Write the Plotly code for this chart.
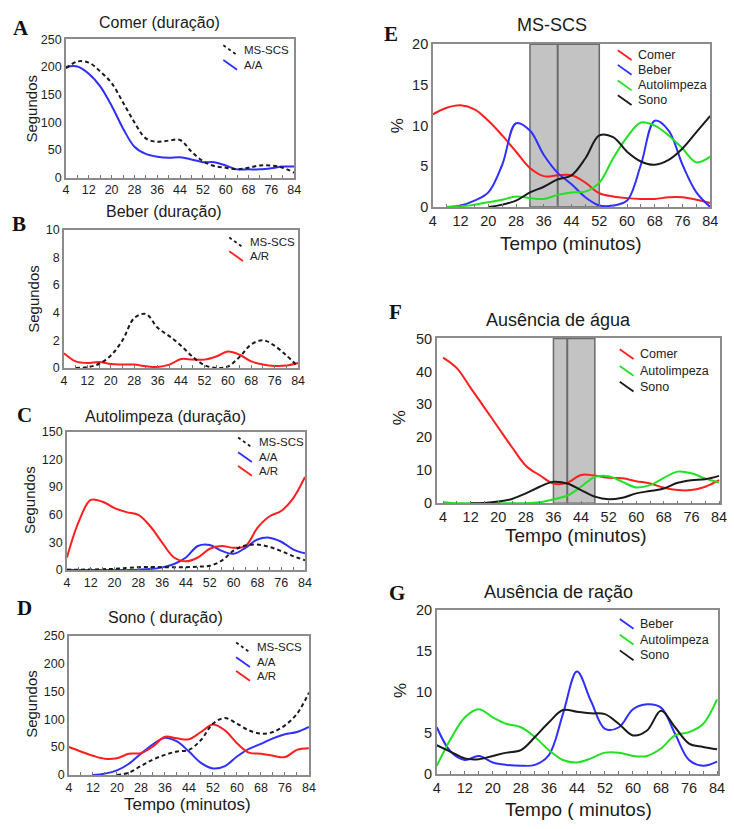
import plotly.graph_objects as go

W, H = 734, 829

# time axis (minutes)
T = [4, 8, 12, 16, 20, 24, 28, 32, 36, 40, 44, 48, 52, 56, 60, 64, 68, 72, 76, 80, 84]
X_TICKS = [4, 12, 20, 28, 36, 44, 52, 60, 68, 76, 84]

# A - Comer (duração), seconds
A_MSSCS = [198, 210, 208, 192, 171, 136, 100, 71, 65, 67, 68, 47, 30, 21, 18, 15, 18, 22, 22, 18, 9]
A_AA = [200, 201, 188, 165, 130, 89, 56, 43, 38, 36, 37, 33, 28, 28, 22, 15, 15, 15, 17, 20, 20]

# B - Beber (duração), seconds
B_MSSCS = [None, 0, 0.05, 0.3, 0.9, 2.0, 3.6, 3.9, 2.9, 2.3, 1.6, 0.8, 0.2, 0.0, 0.1, 0.8, 1.7, 2.0, 1.6, 0.9, 0.1]
B_AR = [1.06, 0.47, 0.35, 0.43, 0.28, 0.25, 0.24, 0.12, 0.07, 0.24, 0.64, 0.6, 0.6, 0.83, 1.18, 0.95, 0.47, 0.24, 0.14, 0.17, 0.35]

# C - Autolimpeza (duração), seconds
C_MSSCS = [0.3, 0.3, 0.5, 0.8, 1.2, 2.0, 3.0, 3.2, 3.0, 2.8, 3.0, 3.5, 4.6, 10, 21, 26.5, 27.5, 25, 20.5, 15, 10.5]
C_AA = [0.3, 0, 0, 0, 0, 0, 0.3, 1.0, 2.8, 6.4, 13.5, 26, 27, 20.7, 17.5, 24, 33, 35, 30.6, 22.4, 18]
C_AR = [13.5, 52.7, 75.9, 74, 67, 62.7, 59.8, 47.4, 29.6, 13.5, 9.3, 13.5, 23, 26, 24, 26, 45.6, 58, 64, 77.7, 100.8]

# D - Sono (duração), seconds
D_MSSCS = [None, None, None, None, 0, 4, 16, 27.5, 36, 42, 45, 62.6, 92, 102, 92, 80, 74, 77, 89, 109.5, 147.5]
D_AA = [None, None, 0, 2.3, 8, 20, 38, 55, 66.7, 60, 42, 21.7, 11.7, 15.8, 33, 46.8, 55.6, 65.6, 73, 77, 86]
D_AR = [50, 42, 34.5, 29, 30, 38, 39, 51, 68.5, 65.6, 64, 77, 90.7, 80, 57, 40, 38, 34.5, 32, 45, 48]

# E - MS-SCS, percent of time
E_COMER = [11.4, 12.2, 12.5, 12, 10.6, 8.8, 6.8, 4.8, 3.8, 3.9, 3.9, 3.0, 1.7, 1.3, 1.1, 1.0, 1.0, 1.2, 1.2, 0.9, 0.5]
E_BEBER = [None, 0, 0.2, 0.8, 1.8, 5.2, 10.3, 9.4, 6.4, 4.2, 2.8, 1.2, 0.2, 0.2, 0.8, 5.2, 10.6, 9.4, 5.2, 1.8, 0]
E_AUTO = [None, 0, 0.1, 0.3, 0.6, 0.9, 1.3, 1.1, 1.0, 1.5, 1.8, 1.9, 3.0, 6.0, 8.6, 10.4, 10.0, 8.8, 7.2, 5.5, 6.2]
E_SONO = [None, None, None, None, 0, 0.3, 0.8, 1.8, 2.5, 3.4, 3.9, 6.0, 8.8, 8.6, 6.8, 5.6, 5.2, 5.8, 7.2, 9.2, 11.2]
E_BAND = (32, 52, 40)

# F - Ausência de água, percent of time
F_COMER = [44.2, 41, 35, 29, 23, 17, 11.4, 8.5, 6, 6.2, 8.6, 8.4, 7.7, 7.6, 6.7, 6, 4.7, 4, 4, 5, 7]
F_AUTO = [0.3, 0, 0, 0, 0, 0, 0, 0.3, 1.2, 2.3, 5.0, 8.0, 8.2, 6.5, 4.8, 5.5, 7.7, 9.6, 9.1, 7.5, 6.3]
F_SONO = [None, None, 0, 0.1, 0.5, 1.3, 3.0, 5.0, 6.5, 6.0, 4.0, 2.0, 1.2, 1.7, 3.0, 3.7, 4.5, 6.2, 7.0, 7.3, 8.3]
F_BAND = (36, 48, 40)

# G - Ausência de ração, percent of time
G_BEBER = [5.7, 2.7, 1.7, 2.2, 1.4, 1.1, 1.0, 1.1, 2.3, 7.3, 12.5, 8.9, 5.5, 5.7, 7.9, 8.5, 8.1, 4.9, 1.7, 1.0, 1.5]
G_AUTO = [1.0, 4.3, 6.9, 7.9, 6.9, 6.1, 5.7, 4.5, 2.9, 1.7, 1.4, 1.9, 2.6, 2.6, 2.2, 2.2, 3.1, 4.7, 5.1, 6.1, 9.1]
G_SONO = [3.5, 2.7, 1.9, 1.8, 2.2, 2.6, 2.9, 4.5, 6.3, 7.8, 7.6, 7.4, 7.3, 6.1, 4.7, 5.3, 7.7, 5.7, 3.7, 3.3, 3.0]

RED, BLUE, GREEN, BLACK = "#ff1f1f", "#2f2fff", "#22e022", "#1a1a1a"
SOLID, DASHED = "solid", "4px,3px"


def fx(p):
    return p / W


def fy(p):
    return 1 - p / H


# panel layout: letter, title, box (left, top, right, bottom in px), x range, y range, y step,
# y title, legend text x, legend rows y, fonts
PANELS = [
    dict(letter="A", title="Comer (duração)", box=(63, 32, 295, 173), xr=[4, 84], ymax=250, dy=50,
         ytitle="Segundos", ytpos=(27, 103), tpos=(158, 15), lpos=(17, 20),
         series=[("MS-SCS", A_MSSCS, BLACK, DASHED), ("A/A", A_AA, BLUE, SOLID)],
         leg_x=242, leg_y=[43, 58], small=True),
    dict(letter="B", title="Beber (duração)", box=(61, 226, 299, 367), xr=[4, 84], ymax=10, dy=2,
         ytitle="Segundos", ytpos=(30, 297), tpos=(163, 208), lpos=(15, 220),
         series=[("MS-SCS", B_MSSCS, BLACK, DASHED), ("A/R", B_AR, RED, SOLID)],
         leg_x=248, leg_y=[239, 253], small=True),
    dict(letter="C", title="Autolimpeza (duração)", box=(64, 432, 306, 573), xr=[4, 84], ymax=150, dy=30,
         ytitle="Segundos", ytpos=(26, 502), tpos=(164, 417), lpos=(21, 415),
         series=[("MS-SCS", C_MSSCS, BLACK, DASHED), ("A/A", C_AA, BLUE, SOLID), ("A/R", C_AR, RED, SOLID)],
         leg_x=257, leg_y=[443, 458, 472], small=True),
    dict(letter="D", title="Sono ( duração)", box=(66, 640, 310, 782), xr=[4, 84], ymax=250, dy=50,
         ytitle="Segundos", ytpos=(28, 710), tpos=(164, 622), lpos=(21, 612),
         series=[("MS-SCS", D_MSSCS, BLACK, DASHED), ("A/A", D_AA, BLUE, SOLID), ("A/R", D_AR, RED, SOLID)],
         leg_x=255, leg_y=[652, 667, 681], small=True,
         xtitle="Tempo (minutos)", xtpos=(187, 812)),
    dict(letter="E", title="MS-SCS", box=(436, 37, 718, 203), xr=[4, 84], ymax=20, dy=5,
         ytitle="%", ytpos=(400, 120), tpos=(557, 17), lpos=(393, 27),
         series=[("Comer", E_COMER, RED, SOLID), ("Beber", E_BEBER, BLUE, SOLID),
                 ("Autolimpeza", E_AUTO, GREEN, SOLID), ("Sono", E_SONO, BLACK, SOLID)],
         leg_x=643, leg_y=[48, 63, 79, 94], small=False, band=E_BAND,
         xtitle="Tempo (minutos)", xtpos=(576, 240)),
    dict(letter="F", title="Ausência de água", box=(440, 337, 728, 505), xr=[2.2, 84.3], ymax=50, dy=10,
         ytitle="%", ytpos=(403, 418), tpos=(564, 318), lpos=(398, 310),
         series=[("Comer", F_COMER, RED, SOLID), ("Autolimpeza", F_AUTO, GREEN, SOLID),
                 ("Sono", F_SONO, BLACK, SOLID)],
         leg_x=645, leg_y=[353, 370, 386], small=False, band=F_BAND,
         xtitle="Tempo (minutos)", xtpos=(582, 538)),
    dict(letter="G", title="Ausência de ração", box=(440, 614, 726, 781), xr=[4, 84.3], ymax=20, dy=5,
         ytitle="%", ytpos=(403, 696), tpos=(564, 595), lpos=(400, 597),
         series=[("Beber", G_BEBER, BLUE, SOLID), ("Autolimpeza", G_AUTO, GREEN, SOLID),
                 ("Sono", G_SONO, BLACK, SOLID)],
         leg_x=645, leg_y=[628, 644, 660], small=False,
         xtitle="Tempo ( minutos)", xtpos=(584, 817)),
]

FONT = "Liberation Sans, Arial, sans-serif"
fig = go.Figure()
annotations = []
shapes = []
layout = {}

for k, p in enumerate(PANELS, start=1):
    xa = "x" if k == 1 else f"x{k}"
    ya = "y" if k == 1 else f"y{k}"
    l, t, r, b = p["box"]
    tick_size = 12.5 if p["small"] else 14.5
    leg_size = 11.5 if p["small"] else 12.5

    # plotted series, MS-SCS dashed drawn last so it stays visible
    order = sorted(p["series"], key=lambda s: s[3] == DASHED)
    for name, vals, color, dash in order:
        fig.add_trace(go.Scatter(
            x=T, y=vals, mode="lines", name=name, xaxis=xa, yaxis=ya,
            line=dict(color=color, width=2, dash=dash, shape="spline", smoothing=1.0),
            showlegend=False, hoverinfo="x+y+name"))

    axis_common = dict(showline=True, linecolor="#8c8c8c", linewidth=1.5, mirror=True,
                       showgrid=False, zeroline=False, tickfont=dict(family=FONT, size=tick_size, color="#1e1e1e"))
    layout["xaxis" if k == 1 else f"xaxis{k}"] = dict(
        domain=[fx(l), fx(r)], range=p["xr"], anchor=ya, tickvals=X_TICKS,
        ticks="inside", ticklen=3, tickcolor="#777", tickwidth=1,
        minor=dict(tick0=4, dtick=4, ticks="inside", ticklen=3, tickcolor="#777"),
        **axis_common)
    layout["yaxis" if k == 1 else f"yaxis{k}"] = dict(
        domain=[fy(b), fy(t)], range=[0, p["ymax"]], anchor=xa, dtick=p["dy"], tick0=0,
        ticks="", **axis_common)

    # shaded interval with its divider
    if "band" in p:
        x0, x1, xm = p["band"]
        shapes.append(dict(type="rect", xref=xa, yref=f"{ya} domain", x0=x0, x1=x1, y0=0, y1=1,
                           fillcolor="#c3c3c3", line=dict(color="#6a6a6a", width=1.5), layer="below"))
        shapes.append(dict(type="line", xref=xa, yref=f"{ya} domain", x0=xm, x1=xm, y0=0, y1=1,
                           line=dict(color="#6a6a6a", width=2), layer="below"))

    # panel letter, title, axis titles
    annotations.append(dict(text=f"<b>{p['letter']}</b>", x=fx(p["lpos"][0]), y=fy(p["lpos"][1]),
                            xref="paper", yref="paper", showarrow=False, xanchor="center", yanchor="middle",
                            font=dict(family="Liberation Serif, Times New Roman, serif", size=21, color="#111")))
    annotations.append(dict(text=p["title"], x=fx(p["tpos"][0]), y=fy(p["tpos"][1]),
                            xref="paper", yref="paper", showarrow=False, xanchor="center", yanchor="middle",
                            font=dict(family=FONT, size=16 if p["small"] else 18, color="#1a1a1a")))
    annotations.append(dict(text=p["ytitle"], x=fx(p["ytpos"][0]), y=fy(p["ytpos"][1]),
                            xref="paper", yref="paper", showarrow=False, xanchor="center", yanchor="middle",
                            textangle=-90,
                            font=dict(family=FONT, size=15 if p["small"] else 17, color="#1a1a1a")))
    if "xtitle" in p:
        annotations.append(dict(text=p["xtitle"], x=fx(p["xtpos"][0]), y=fy(p["xtpos"][1]),
                                xref="paper", yref="paper", showarrow=False, xanchor="center", yanchor="middle",
                                font=dict(family=FONT, size=17 if p["small"] else 19, color="#1a1a1a")))

    # legend: diagonal line samples with labels
    for (name, vals, color, dash), yy in zip(p["series"], p["leg_y"]):
        tx = p["leg_x"]
        shapes.append(dict(type="line", xref="paper", yref="paper",
                           x0=fx(tx - 19), y0=fy(yy - 5), x1=fx(tx - 5), y1=fy(yy + 5),
                           line=dict(color=color, width=1.8, dash="3px,3px" if dash == DASHED else "solid")))
        annotations.append(dict(text=name, x=fx(tx), y=fy(yy), xref="paper", yref="paper",
                                showarrow=False, xanchor="left", yanchor="middle",
                                font=dict(family=FONT, size=leg_size, color="#222")))

fig.update_layout(
    width=W, height=H, margin=dict(l=0, r=0, t=0, b=0),
    paper_bgcolor="white", plot_bgcolor="white",
    showlegend=False, annotations=annotations, shapes=shapes, **layout)

fig.write_html("out.html")
